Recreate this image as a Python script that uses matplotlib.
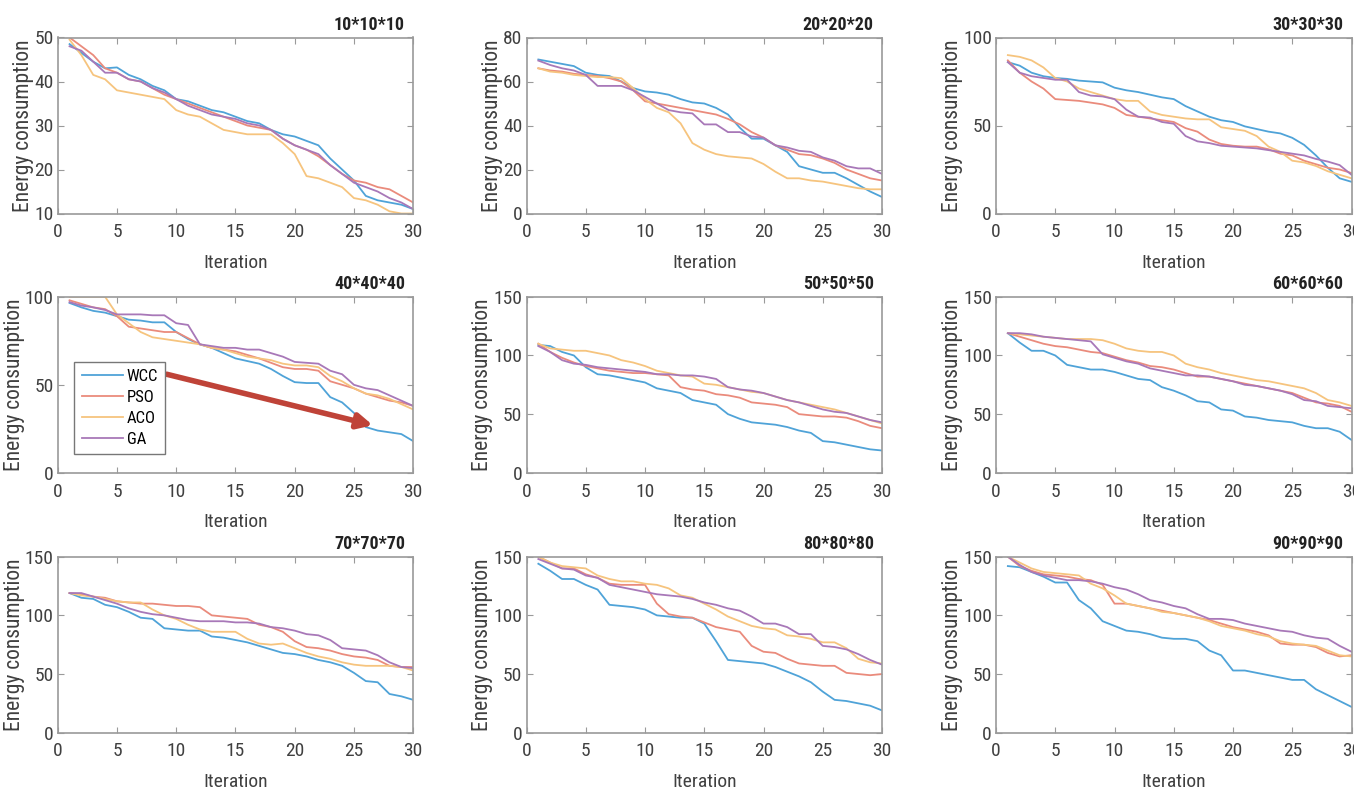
import matplotlib
matplotlib.use("Agg")
from matplotlib import pyplot as plt

# Data
iterations = list(range(1, 31))
titles = ["10*10*10", "20*20*20", "30*30*30",
          "40*40*40", "50*50*50", "60*60*60",
          "70*70*70", "80*80*80", "90*90*90"]
y_limits = [(10, 50), (0, 80), (0, 100),
            (0, 100), (0, 150), (0, 150),
            (0, 150), (0, 150), (0, 150)]
y_ticks = [[10, 20, 30, 40, 50], [0, 20, 40, 60, 80], [0, 50, 100],
           [0, 50, 100], [0, 50, 100, 150], [0, 50, 100, 150],
           [0, 50, 100, 150], [0, 50, 100, 150], [0, 50, 100, 150]]

wcc = [
    [48.5, 46.5, 44.5, 43, 43.2, 41.5, 40.5, 39, 38, 36, 35.5, 34.5, 33.5, 33, 32, 31, 30.5, 29, 28, 27.5, 26.5, 25.5, 22.5, 20, 17.5, 14, 13, 12.5, 12, 11],
    [70, 69, 68, 67, 64, 63, 62.5, 60, 57, 55.5, 55, 54, 52, 50.5, 50, 48, 45, 39, 34, 34, 31, 28, 21.5, 20, 18.5, 18.5, 16, 13, 10, 7.5],
    [86, 84, 80, 78, 77, 76.5, 75.5, 75, 74.5, 71.5, 70, 69, 67.5, 66, 65, 61, 58, 55, 53, 52, 49.5, 48, 46.5, 45.5, 43, 39, 33, 26, 20, 18],
    [96.5, 94, 92, 91, 89, 87, 86.5, 85.5, 85.5, 80, 76, 73, 71, 68, 65, 63.5, 62, 59, 55, 51.5, 51, 51, 43, 40, 34, 26, 24, 23, 22, 18],
    [109, 108, 103, 100, 90, 84, 83, 81, 79, 77, 72, 70, 68, 62, 60, 58, 50, 46, 43, 42, 41, 39, 36, 34, 27, 26, 24, 22, 20, 19],
    [119, 111, 104, 104, 100, 92, 90, 88, 88, 86, 83, 80, 79, 73, 70, 66, 61, 60, 54, 53, 48, 47, 45, 44, 43, 40, 38, 38, 35, 28],
    [119, 115, 114, 109, 107, 103, 98, 97, 89, 88, 87, 87, 82, 81, 79, 77, 74, 71, 68, 67, 65, 62, 60, 57, 51, 44, 43, 33, 31, 28],
    [144, 138, 131, 131, 126, 122, 109, 108, 107, 105, 100, 99, 98, 98, 93, 78, 62, 61, 60, 59, 56, 52, 48, 43, 35, 28, 27, 25, 23, 19],
    [142, 141, 137, 133, 128, 128, 113, 106, 95, 91, 87, 86, 84, 81, 80, 80, 78, 70, 66, 53, 53, 51, 49, 47, 45, 45, 37, 32, 27, 22],
]
pso = [
    [50, 48, 46, 43, 42, 40.5, 40, 38.5, 37, 36, 35, 34, 33, 32, 31, 30, 29.5, 29, 27, 25.5, 24.5, 23, 21, 19, 17.5, 17, 16, 15.5, 14, 12.5],
    [66, 65, 64.5, 63.5, 63, 62.5, 61.5, 60, 56, 51, 50, 49, 48, 47, 46, 45, 43, 40.5, 37, 34.5, 31, 29, 27, 26.5, 25, 23, 20, 18, 16, 15],
    [87, 80, 75, 71, 65, 64.5, 64, 63, 62, 60, 56, 55, 54, 53, 52, 48.5, 46.5, 42, 39.5, 38.5, 38, 38, 36.5, 34, 33, 30, 28, 26, 25, 23],
    [98, 96, 94, 93, 89, 83, 82, 81, 80, 80, 76.5, 73, 71, 70, 69, 67, 65, 62.5, 60, 59, 59, 58, 52, 50, 48, 45, 43, 41, 40, 38],
    [110, 103, 98, 94, 91, 89, 87, 86, 85, 85, 84, 83, 73, 71, 70, 67, 66, 64, 60, 59, 58, 56, 50, 49, 48, 48, 47, 44, 40, 38],
    [119, 116, 113, 110, 108, 107, 105, 103, 102, 99, 96, 94, 91, 90, 88, 85, 82, 82, 80, 78, 76, 74, 72, 70, 68, 64, 60, 59, 57, 52],
    [119, 118, 116, 115, 112, 111, 110, 110, 109, 108, 108, 107, 100, 99, 98, 97, 92, 90, 86, 78, 73, 72, 70, 67, 65, 64, 62, 57, 56, 56],
    [150, 145, 140, 140, 135, 132, 127, 126, 126, 126, 110, 101, 99, 98, 94, 90, 88, 86, 74, 69, 68, 63, 59, 58, 57, 57, 51, 50, 49, 50],
    [150, 142, 138, 135, 134, 133, 131, 130, 126, 110, 110, 108, 106, 104, 102, 100, 98, 96, 93, 90, 88, 86, 83, 76, 75, 75, 73, 68, 65, 66],
]
aco = [
    [49.5, 46, 41.5, 40.5, 38, 37.5, 37, 36.5, 36, 33.5, 32.5, 32, 30.5, 29, 28.5, 28, 28, 28, 26, 23.5, 18.5, 18, 17, 16, 13.5, 13, 12, 10.5, 10, 10],
    [66, 64.5, 64, 63, 62.5, 62, 62, 61.5, 57, 52, 48, 46, 41, 32, 29, 27, 26, 25.5, 25, 22.5, 19, 16, 16, 15, 14.5, 13.5, 12.5, 11.5, 11, 11],
    [90, 89, 87, 83, 77, 75, 71, 69, 67, 65, 64, 64, 58, 56, 55, 54, 53.5, 53.5, 49, 48, 47, 44, 38, 35, 30, 29, 27, 24, 22, 20],
    [100, 100, 100, 100, 90, 85, 80, 77, 76, 75, 74, 73, 71, 70, 68, 66, 65, 64, 62, 61, 61, 60, 55, 52, 48, 45, 44, 42, 39, 36],
    [110, 106, 105, 104, 104, 102, 100, 96, 94, 91, 87, 85, 83, 82, 76, 75, 73, 71, 69, 68, 65, 62, 60, 58, 56, 54, 51, 48, 45, 42],
    [119, 118, 117, 116, 115, 114, 114, 114, 113, 110, 106, 104, 103, 103, 100, 93, 90, 88, 85, 83, 81, 79, 78, 76, 74, 72, 68, 62, 60, 57],
    [119, 117, 116, 114, 112, 111, 111, 105, 100, 97, 92, 88, 86, 86, 86, 80, 76, 75, 76, 72, 68, 65, 63, 60, 58, 57, 57, 57, 56, 53],
    [150, 145, 142, 141, 140, 134, 131, 129, 129, 127, 126, 123, 117, 115, 110, 105, 99, 95, 91, 89, 88, 83, 82, 80, 77, 77, 72, 63, 60, 59],
    [150, 145, 140, 137, 136, 135, 134, 127, 123, 117, 110, 108, 106, 103, 102, 100, 98, 95, 91, 89, 87, 84, 82, 78, 76, 75, 74, 70, 66, 65],
]
ga = [
    [48, 47, 44.5, 42, 42, 40.5, 40, 38.5, 37.5, 36, 34.5, 33.5, 32.5, 32, 31.5, 30.5, 30, 29, 27, 25.5, 24.5, 23.5, 21, 19, 17, 16, 15, 13.5, 12.5, 11],
    [69.5, 67.5, 66, 65, 63, 58, 58, 58, 56, 53, 50, 47, 46, 45.5, 40.5, 40.5, 37, 37, 35, 34.5, 31, 30, 28.5, 28, 25.5, 24, 21.5, 20.5, 20.5, 18],
    [86, 80, 78, 77, 76, 76, 69, 67, 66.5, 65, 59, 55, 54.5, 52, 51, 44, 41, 40, 38.5, 38, 37.5, 37, 36, 35, 34, 33, 31, 29.5, 27.5, 22],
    [97, 95, 94, 92.5, 90, 90, 90, 89.5, 89.5, 85, 84, 73, 72, 71, 71, 70, 70, 68, 66, 63, 62.5, 62, 58, 56, 50, 48, 47, 44, 41, 38],
    [108, 103, 96, 93, 92, 90, 89, 88, 87, 86, 84, 84, 83, 83, 82, 80, 73, 71, 70, 68, 65, 62, 60, 57, 54, 52, 51, 48, 45, 43],
    [119, 119, 118, 116, 115, 114, 113, 112, 101, 98, 95, 93, 89, 87, 85, 83, 83, 82, 80, 78, 75, 74, 72, 70, 67, 62, 61, 57, 56, 55],
    [119, 119, 116, 113, 110, 106, 103, 101, 100, 98, 96, 95, 95, 95, 94, 94, 93, 90, 89, 87, 84, 83, 79, 72, 71, 70, 66, 60, 56, 55],
    [148, 144, 140, 139, 134, 132, 126, 124, 122, 120, 118, 117, 116, 114, 111, 109, 106, 104, 99, 93, 93, 90, 84, 84, 74, 73, 71, 67, 62, 58],
    [150, 143, 137, 134, 132, 130, 130, 129, 127, 124, 122, 118, 113, 111, 108, 106, 101, 97, 97, 96, 93, 91, 89, 87, 86, 83, 81, 80, 74, 69],
]

series_names = ["WCC", "PSO", "ACO", "GA"]
series_colors = ["#4fa3d8", "#ea8b7c", "#f6c47e", "#a878b8"]

# red arrow in the 40*40*40 panel
arrow_start = (9.2, 56)
arrow_end = (26.6, 27)

plt.rcParams['font.family'] = ['Roboto Condensed', 'Liberation Sans', 'DejaVu Sans']

fig = plt.figure(figsize=(13.54, 7.9), dpi=100)
W, H = 1354.0, 790.0
lefts = [57.7, 526.5, 996.0]
tops = [37.5, 296.8, 556.7]
aw, ah = 355.5, 176.0

gray = "#9a9a9a"
txt = "#404040"

for k in range(9):
    r, c = divmod(k, 3)
    ax = fig.add_axes([lefts[c] / W, 1 - (tops[r] + ah) / H, aw / W, ah / H])
    data = [wcc[k], pso[k], aco[k], ga[k]]
    for vals, name, col in zip(data, series_names, series_colors):
        ax.plot(iterations, vals, color=col, lw=1.3, label=name)
    ax.set_xlim(0, 30)
    ax.set_ylim(*y_limits[k])
    ax.set_xticks(range(0, 31, 5))
    ax.set_yticks(y_ticks[k])
    ax.tick_params(direction='in', top=True, right=True, length=4, color=gray,
                   labelsize=14, labelcolor=txt)
    ax.tick_params(axis='x', pad=7)
    ax.tick_params(axis='y', pad=3)
    for s in ax.spines.values():
        s.set_color(gray)
        s.set_linewidth(1.2)
    ax.set_xlabel("Iteration", fontsize=14, color=txt, labelpad=9)
    ax.set_ylabel("Energy consumption", fontsize=15.5, color=txt, labelpad=0)
    ax.text(0.977, 1.02, titles[k], transform=ax.transAxes, ha='right', va='bottom',
            fontsize=13, fontweight='bold', color='#222222')
    if k == 3:
        ax.legend(loc='lower left', bbox_to_anchor=(0.046, 0.106), fontsize=12,
                  fancybox=False, edgecolor='#777777', framealpha=1,
                  handlelength=2.5, borderpad=0.45, labelspacing=0.35,
                  handletextpad=0.2, borderaxespad=0)
        ax.annotate("", xy=arrow_end, xytext=arrow_start,
                    arrowprops=dict(arrowstyle='-|>', color='#bf4338', lw=4,
                                    mutation_scale=22, shrinkA=0, shrinkB=0))

fig.savefig("out.png", dpi=100)
